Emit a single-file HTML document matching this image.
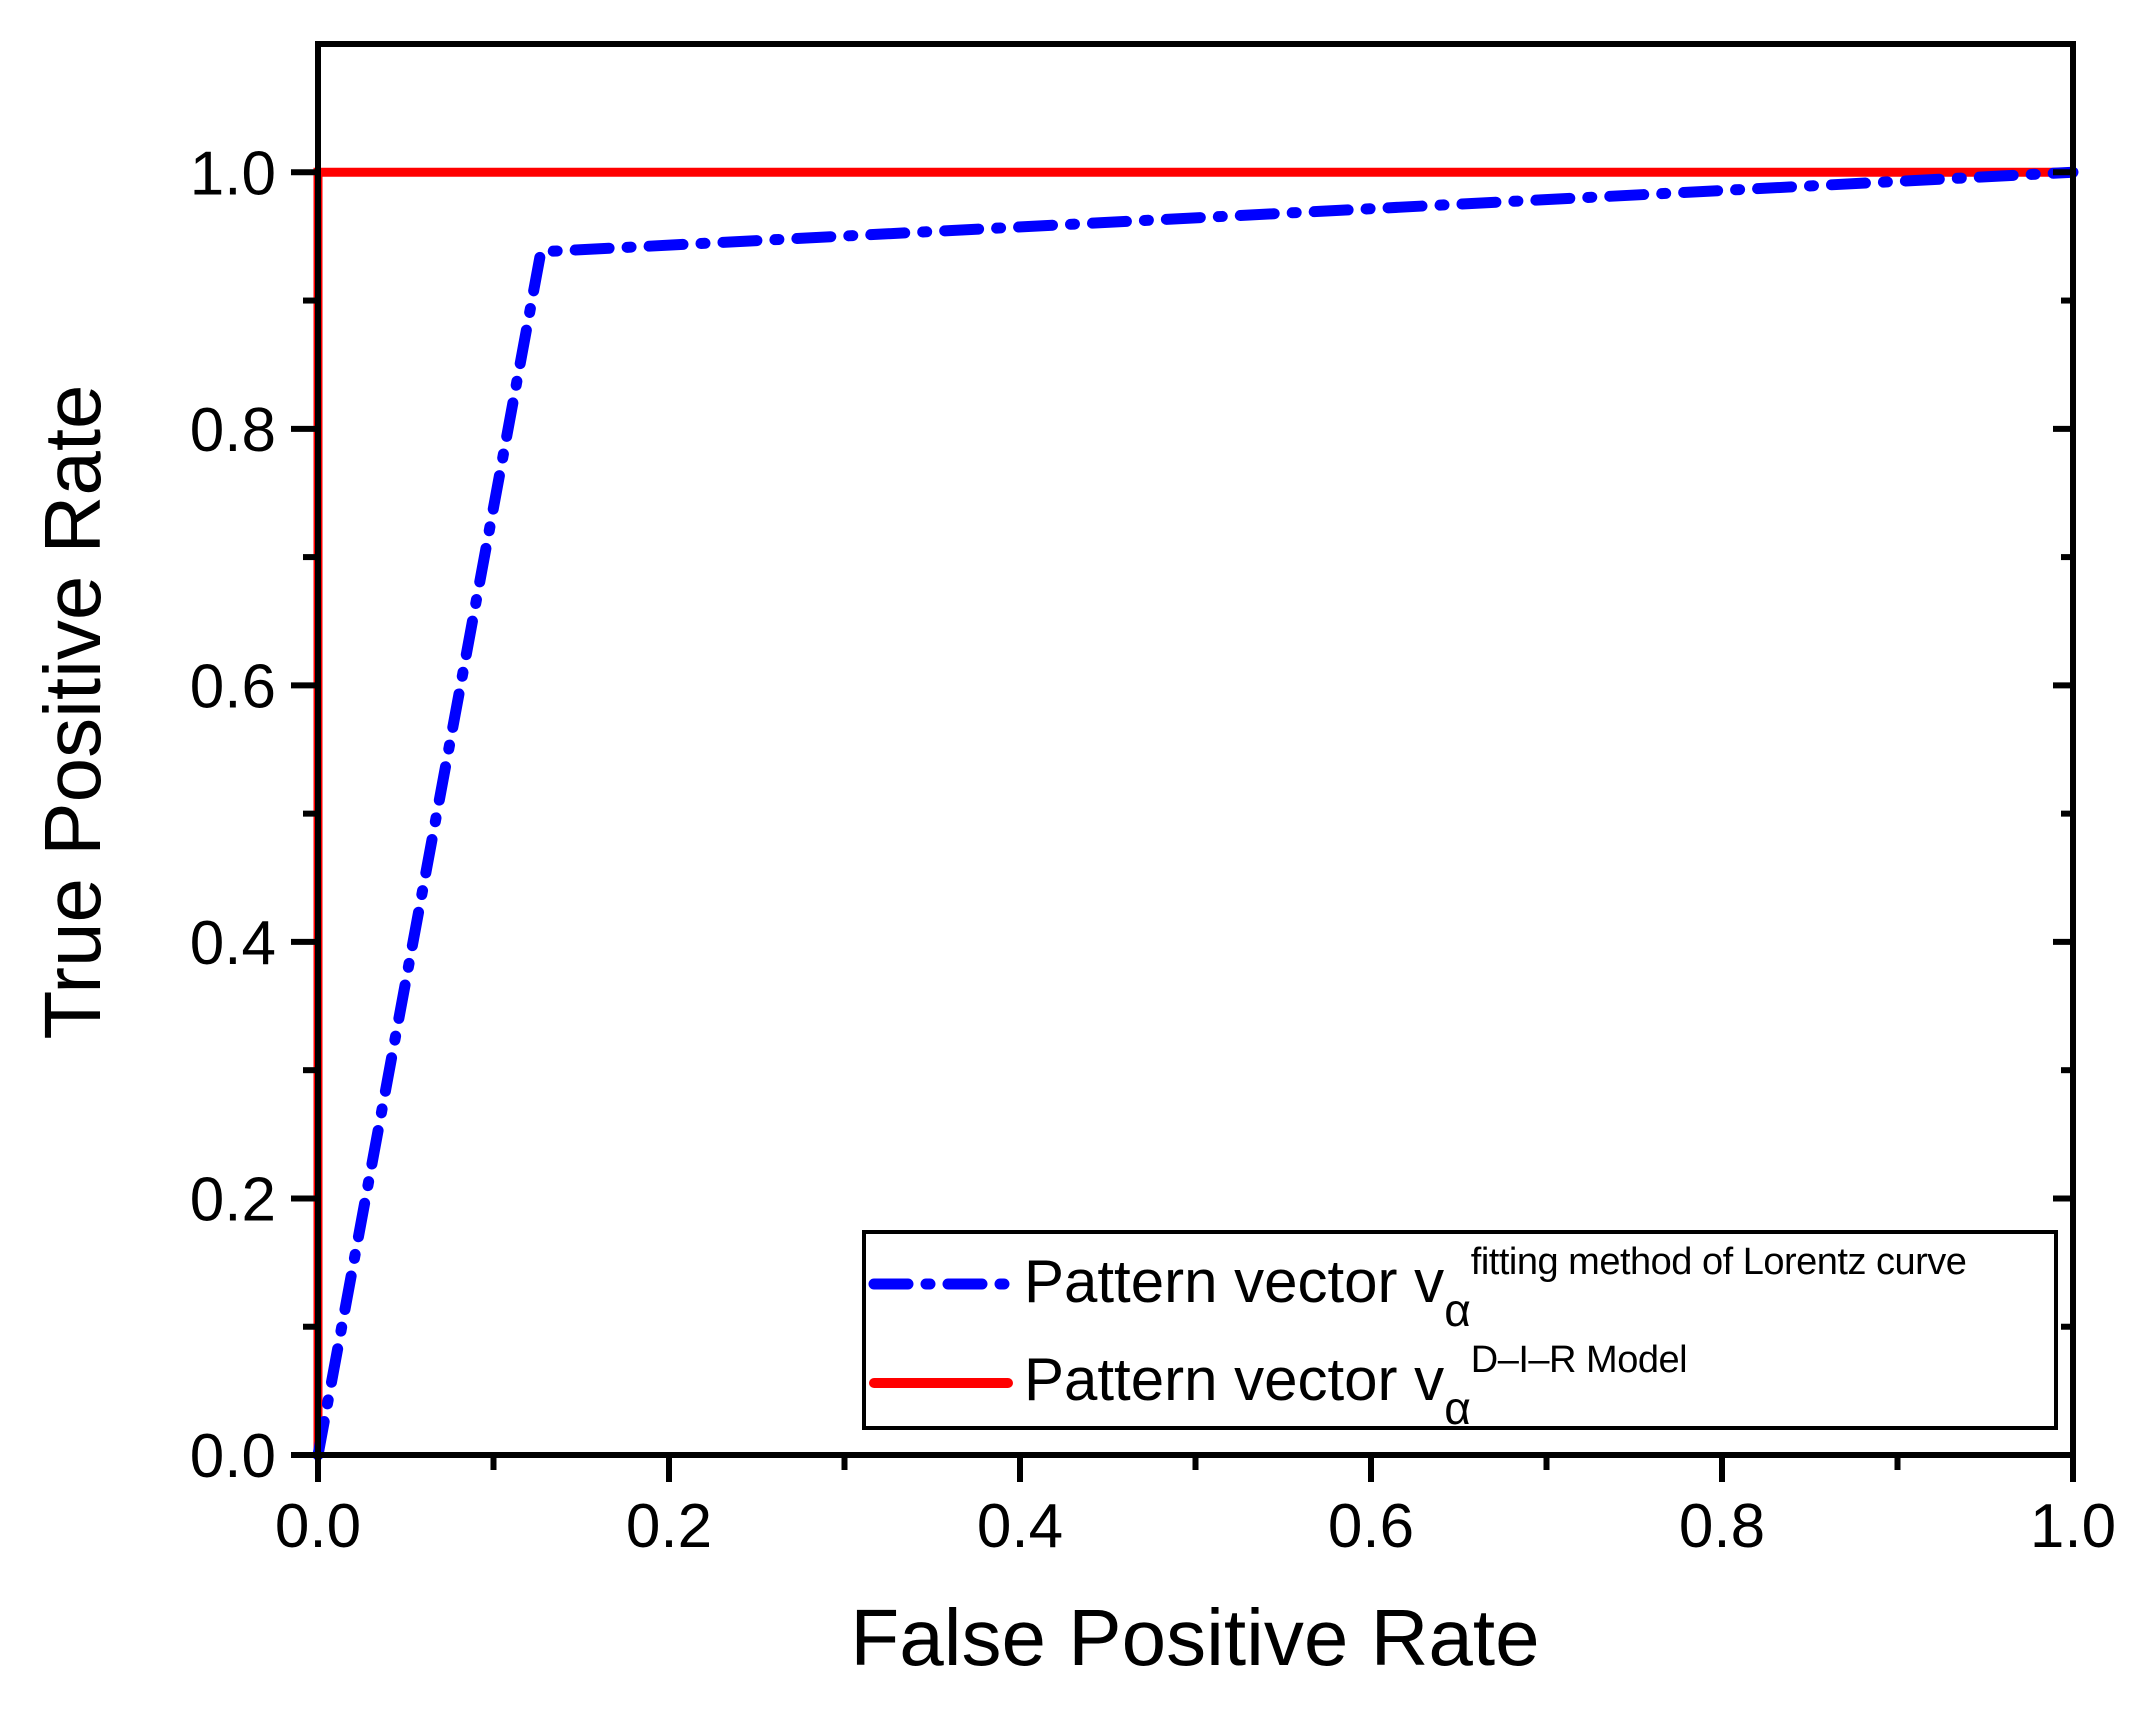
<!DOCTYPE html>
<html><head><meta charset="utf-8"><style>
body{margin:0;background:#fff}
svg{display:block;font-family:"Liberation Sans",Arial,sans-serif}
</style></head><body>
<svg id="chart" width="2146" height="1721" viewBox="0 0 2146 1721">
<g id="grid"></g>
<g id="series"></g>
<g id="axes"></g>
<g id="legend">
<rect x="864" y="1232" width="1192" height="196" fill="#fff" stroke="#000" stroke-width="4"/>
<line x1="874" y1="1284" x2="1008" y2="1284" stroke="#0000ff" stroke-width="11" stroke-dasharray="34,18,4,18" stroke-linecap="round"/>
<line x1="874" y1="1383" x2="1008" y2="1383" stroke="#ff0000" stroke-width="10" stroke-linecap="round"/>
<text x="1024" y="1302" font-size="60">Pattern vector v<tspan font-size="46" dy="24">α</tspan><tspan font-size="38" dy="-52" letter-spacing="-0.5">fitting method of Lorentz curve</tspan></text>
<text x="1024" y="1400" font-size="60">Pattern vector v<tspan font-size="46" dy="24">α</tspan><tspan font-size="38" dy="-52" letter-spacing="-0.5">D–I–R Model</tspan></text>
</g>
<text x="1195" y="1665" font-size="80" text-anchor="middle">False Positive Rate</text>
<text transform="translate(100,712) rotate(-90)" font-size="80" text-anchor="middle">True Positive Rate</text>
</svg>
<script>
const xTicks=[0,0.2,0.4,0.6,0.8,1.0];
const yTicks=[0,0.2,0.4,0.6,0.8,1.0];
const tickLabels=["0.0","0.2","0.4","0.6","0.8","1.0"];
const blueX=[0,0.127,1];
const blueY=[0,0.938,1];
const redX=[0,0,1];
const redY=[0,1,1];
const L=318,R=2073,T=44,B=1455,YMAX=1.1;
const sx=v=>L+v*(R-L);
const sy=v=>B-v/YMAX*(B-T);
const NS="http://www.w3.org/2000/svg";
function mk(tag,attrs,parent){const e=document.createElementNS(NS,tag);for(const k in attrs)e.setAttribute(k,attrs[k]);parent.appendChild(e);return e;}
const series=document.getElementById('series'),axes=document.getElementById('axes');
function pts(xs,ys){return xs.map((x,i)=>sx(x)+","+sy(ys[i])).join(" ");}
let red=mk('polyline',{points:pts(redX,redY),fill:"none",stroke:"#ff0000","stroke-width":9},series);


let blue=mk('polyline',{points:pts(blueX,blueY),fill:"none",stroke:"#0000ff","stroke-width":11,"stroke-dasharray":"34,18,4,18","stroke-linecap":"round"},series);


let frame=mk('rect',{x:L,y:T,width:R-L,height:B-T,fill:"none",stroke:"#000","stroke-width":6},axes);


xTicks.forEach((v,i)=>{
 mk('line',{x1:sx(v),y1:B,x2:sx(v),y2:B+27,stroke:"#000","stroke-width":6},axes);
 if(i<xTicks.length-1){const m=(v+xTicks[i+1])/2;mk('line',{x1:sx(m),y1:B,x2:sx(m),y2:B+15,stroke:"#000","stroke-width":6},axes);}
 let t=mk('text',{x:sx(v),y:1547,"font-size":62,"text-anchor":"middle"},axes);t.textContent=tickLabels[i];
 
 
});
yTicks.forEach((v,i)=>{
 mk('line',{x1:L-27,y1:sy(v),x2:L,y2:sy(v),stroke:"#000","stroke-width":6},axes);
 mk('line',{x1:R-20,y1:sy(v),x2:R,y2:sy(v),stroke:"#000","stroke-width":6},axes);
 if(i<yTicks.length-1){const m=(v+yTicks[i+1])/2;
  mk('line',{x1:L-15,y1:sy(m),x2:L,y2:sy(m),stroke:"#000","stroke-width":6},axes);
  mk('line',{x1:R-12,y1:sy(m),x2:R,y2:sy(m),stroke:"#000","stroke-width":6},axes);}
 let t=mk('text',{x:276,y:sy(v)+22,"font-size":62,"text-anchor":"end"},axes);t.textContent=tickLabels[i];
 
 
});
</script>
</body></html>
